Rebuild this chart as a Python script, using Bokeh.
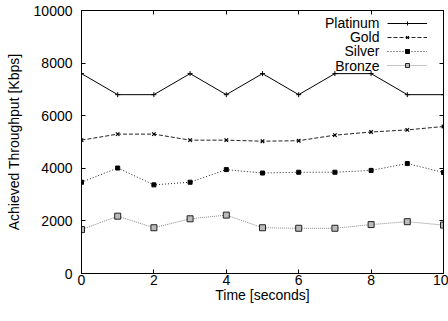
from bokeh.plotting import figure
from bokeh.models import Range1d, LinearAxis, Legend, LegendItem, FixedTicker, Label
from bokeh.embed import file_html
from bokeh.resources import INLINE

time_s = [0, 1, 2, 3, 4, 5, 6, 7, 8, 9, 10]
platinum = [7600, 6800, 6800, 7600, 6800, 7600, 6800, 7600, 7600, 6800, 6800]
gold = [5070, 5300, 5300, 5070, 5070, 5030, 5050, 5260, 5380, 5460, 5590]
silver = [3470, 4010, 3370, 3470, 3950, 3820, 3850, 3850, 3920, 4180, 3840]
bronze = [1670, 2180, 1740, 2080, 2220, 1740, 1720, 1720, 1860, 1970, 1840]
series_names = ["Platinum", "Gold", "Silver", "Bronze"]
x_ticks = [0, 2, 4, 6, 8, 10]
y_ticks = [0, 2000, 4000, 6000, 8000, 10000]

FONT = "Liberation Sans"

p = figure(width=448, height=321, output_backend="svg", toolbar_location=None,
           x_range=Range1d(0, 10), y_range=Range1d(0, 10000),
           min_border_left=81, min_border_right=5, min_border_top=10, min_border_bottom=48)
p.grid.visible = False
p.outline_line_color = "black"
p.outline_line_alpha = 1
p.background_fill_color = "white"
p.border_fill_color = "white"

for ax in (p.xaxis[0], p.yaxis[0]):
    ax.major_tick_in = 4
    ax.major_tick_out = 0
    ax.minor_tick_line_color = None
    ax.axis_line_color = "black"
    ax.major_tick_line_color = "black"
    ax.major_label_text_font = FONT
    ax.major_label_text_font_size = "14px"
    ax.major_label_text_color = "black"
    ax.axis_label_text_font = FONT
    ax.axis_label_text_font_size = "14px"
    ax.axis_label_text_font_style = "normal"
    ax.axis_label_text_color = "black"

p.xaxis[0].ticker = FixedTicker(ticks=x_ticks)
p.yaxis[0].ticker = FixedTicker(ticks=y_ticks)
p.xaxis[0].axis_label = "Time [seconds]"
p.yaxis[0].axis_label = "Achieved Throughput [Kbps]"
p.xaxis[0].major_label_standoff = 1
p.xaxis[0].axis_label_standoff = -1
p.yaxis[0].major_label_standoff = 9
p.yaxis[0].axis_label_standoff = 9

# mirrored inner ticks on top and right, without labels
top_ax = LinearAxis(ticker=FixedTicker(ticks=x_ticks),
                    major_label_overrides={t: "" for t in x_ticks})
right_ax = LinearAxis(ticker=FixedTicker(ticks=y_ticks),
                      major_label_overrides={t: "" for t in y_ticks})
for ax in (top_ax, right_ax):
    ax.major_tick_in = 4
    ax.major_tick_out = 0
    ax.minor_tick_line_color = None
    ax.major_label_text_font_size = "1px"
    ax.major_label_text_color = None
    ax.major_label_standoff = 0
    ax.axis_line_color = "black"
p.add_layout(top_ax, "above")
p.add_layout(right_ax, "right")

l_pt = p.line(time_s, platinum, line_color="black", line_width=1)
m_pt = p.scatter(time_s, platinum, marker="cross", size=5, line_color="black")
l_au = p.line(time_s, gold, line_color="#222222", line_width=1, line_dash="4 2")
m_au = p.scatter(time_s, gold, marker="x", size=5, line_color="black", line_width=1.2)
l_ag = p.line(time_s, silver, line_color="#222222", line_width=1, line_dash="1 2")
m_ag = p.scatter(time_s, silver, marker="square", size=4, line_color="black", fill_color="black")
l_br = p.line(time_s, bronze, line_color="#888888", line_width=1, line_dash="1 1")
m_br = p.scatter(time_s, bronze, marker="square", size=6, line_color="#222222", fill_color="#bbbbbb")

rends = [[l_pt, m_pt], [l_au, m_au], [l_ag, m_ag], [l_br, m_br]]

# legend: line samples (right) drawn by a Legend, names right-aligned to their left
leg_glyphs = Legend(items=[LegendItem(label=" ", renderers=r) for r in rends],
                    location=(306, 201), glyph_width=40, glyph_height=10, label_height=14,
                    label_standoff=0, padding=0, margin=0, spacing=0,
                    border_line_color=None, background_fill_alpha=0,
                    label_text_font_size="1px", label_text_color=None)
p.add_layout(leg_glyphs, "center")

row_pitch = 14.4
for i, name in enumerate(series_names):
    p.add_layout(Label(x=298, y=251 - i * row_pitch, x_units="screen", y_units="screen",
                       text=name, text_align="right", text_baseline="middle",
                       text_font=FONT, text_font_size="14px", text_color="black"))

open("out.html", "w").write(file_html(p, INLINE))
